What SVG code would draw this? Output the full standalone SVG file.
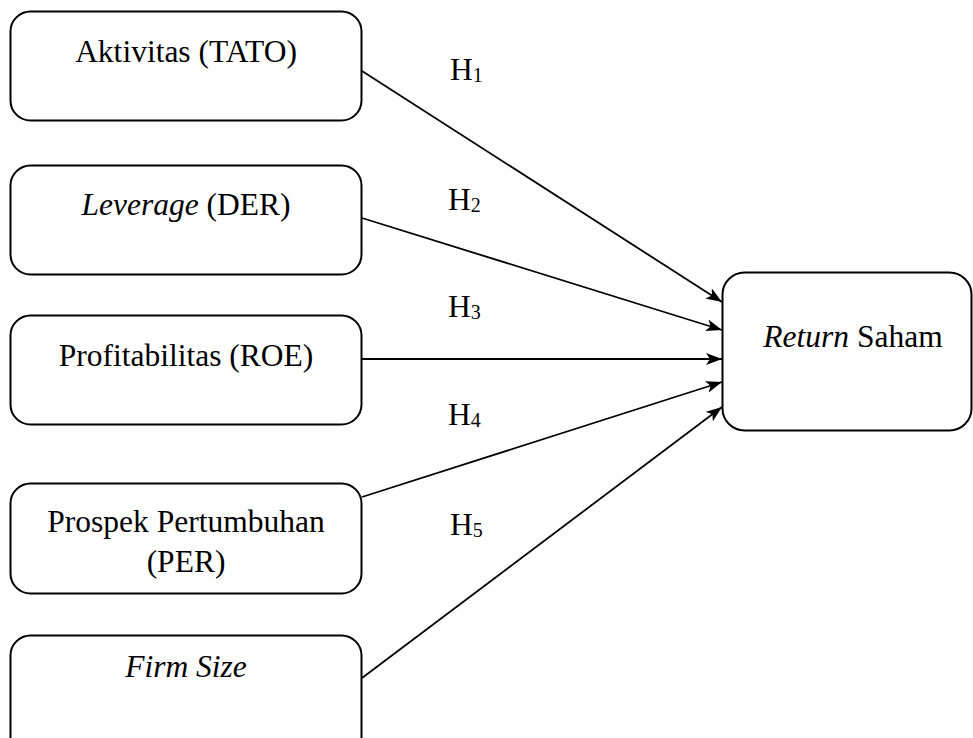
<svg xmlns="http://www.w3.org/2000/svg" width="973" height="738" viewBox="0 0 973 738">
<style>
.box{fill:#fff;stroke:#000;stroke-width:2}
.t{font-family:"Liberation Serif","Times New Roman",serif;font-size:31.5px;fill:#000;text-anchor:middle}
.h{font-family:"Liberation Serif","Times New Roman",serif;font-size:31.5px;fill:#000}
.sub{font-size:20px}
.c{stroke:#000;stroke-width:1.8;fill:none}
</style>
<defs>
<marker id="arr" viewBox="0 0 16 12" refX="16" refY="6" markerWidth="16" markerHeight="12" markerUnits="userSpaceOnUse" orient="auto">
<path d="M0,0 L16,6 L0,12 L4,6 Z" fill="#000"/>
</marker>
</defs>
<rect width="973" height="738" fill="#fff"/>
<g id="connectors">
<line class="c" x1="362" y1="71" x2="722" y2="302" marker-end="url(#arr)"/>
<line class="c" x1="362" y1="218" x2="722" y2="330" marker-end="url(#arr)"/>
<line class="c" x1="362" y1="359" x2="722" y2="359" marker-end="url(#arr)"/>
<line class="c" x1="362" y1="497" x2="722" y2="382" marker-end="url(#arr)"/>
<line class="c" x1="362" y1="678" x2="722" y2="407" marker-end="url(#arr)"/>
</g>
<g id="labels">
<text class="h" x="450" y="80">H<tspan class="sub" dy="2">1</tspan></text>
<text class="h" x="448" y="210">H<tspan class="sub" dy="2">2</tspan></text>
<text class="h" x="448" y="317">H<tspan class="sub" dy="2">3</tspan></text>
<text class="h" x="448" y="425">H<tspan class="sub" dy="2">4</tspan></text>
<text class="h" x="450" y="535">H<tspan class="sub" dy="2">5</tspan></text>
</g>
<g id="node-tato">
<rect class="box" x="10.5" y="11.5" width="351" height="109" rx="20"/>
<text class="t" x="186" y="62">Aktivitas (TATO)</text>
</g>
<g id="node-der">
<rect class="box" x="10.5" y="165.5" width="351" height="109" rx="20"/>
<text class="t" x="186" y="215"><tspan font-style="italic">Leverage</tspan> (DER)</text>
</g>
<g id="node-roe">
<rect class="box" x="10.5" y="315.5" width="351" height="109" rx="20"/>
<text class="t" x="186" y="366">Profitabilitas (ROE)</text>
</g>
<g id="node-per">
<rect class="box" x="10.5" y="483.5" width="351" height="110" rx="20"/>
<text class="t" x="186" y="532">Prospek Pertumbuhan</text>
<text class="t" x="186" y="572">(PER)</text>
</g>
<g id="node-firmsize">
<rect class="box" x="10.5" y="635.5" width="351" height="130" rx="20"/>
<text class="t" x="186" y="677" font-style="italic">Firm Size</text>
</g>
<g id="node-return">
<rect class="box" x="722.5" y="272.5" width="249" height="158" rx="22"/>
<text class="t" x="853" y="347"><tspan font-style="italic">Return</tspan> Saham</text>
</g>
</svg>
